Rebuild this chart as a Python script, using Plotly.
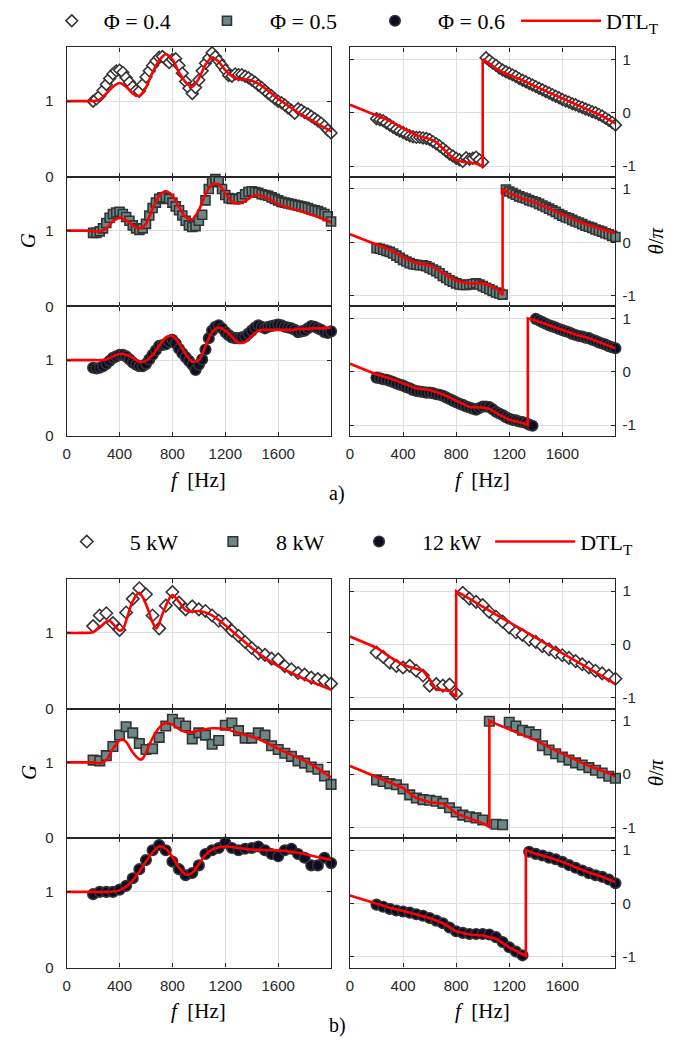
import plotly.graph_objects as go

# ---------------- data ----------------
f_exp_a = list(range(200, 2001, 25))
f_exp_b = list(range(200, 2001, 50))

# Block a) : equivalence ratio Phi
gain_phi04 = [1.00, 1.03, 1.07, 1.14, 1.22, 1.30, 1.36, 1.40, 1.41, 1.38, 1.31, 1.25,
              1.19, 1.14, 1.13, 1.22, 1.32, 1.40, 1.47, 1.53, 1.58, 1.59, 1.55, 1.51,
              1.55, 1.56, 1.47, 1.37, 1.26, 1.17, 1.10, 1.18, 1.28, 1.40, 1.50, 1.57,
              1.64, 1.59, 1.53, 1.47, 1.41, 1.34, 1.33, 1.36, 1.35, 1.35, 1.33, 1.31,
              1.28, 1.25, 1.21, 1.18, 1.14, 1.10, 1.07, 1.03, 1.00, 0.98, 0.95, 0.91,
              0.88, 0.84, 0.90, 0.88, 0.85, 0.83, 0.80, 0.77, 0.74, 0.71, 0.67, 0.62,
              0.58]
phase_phi04 = [-0.11, -0.13, -0.15, -0.19, -0.23, -0.27, -0.31, -0.34, -0.37, -0.40, -0.43, -0.45,
               -0.46, -0.46, -0.47, -0.48, -0.50, -0.54, -0.58, -0.62, -0.67, -0.72, -0.77, -0.81,
               -0.85, -0.88, -0.91, -0.84, -0.87, -0.85, -0.83, -0.88, -0.92, 1.03, 0.98, 0.93,
               0.89, 0.84, 0.80, 0.77, 0.74, 0.71, 0.68, 0.64, 0.61, 0.58, 0.55, 0.52,
               0.49, 0.46, 0.43, 0.40, 0.37, 0.34, 0.31, 0.28, 0.25, 0.22, 0.20, 0.17,
               0.15, 0.12, 0.10, 0.07, 0.05, 0.02, 0.00, -0.03, -0.06, -0.10, -0.14, -0.18,
               -0.23]
gain_phi05 = [0.97, 0.97, 0.99, 1.03, 1.10, 1.17, 1.22, 1.24, 1.25, 1.22, 1.18, 1.13,
              1.07, 1.03, 1.01, 1.03, 1.09, 1.20, 1.30, 1.37, 1.42, 1.44, 1.44, 1.42,
              1.37, 1.32, 1.27, 1.20, 1.13, 1.07, 1.05, 1.06, 1.13, 1.21, 1.40, 1.55,
              1.64, 1.68, 1.65, 1.55, 1.47, 1.43, 1.42, 1.42, 1.42, 1.44, 1.48, 1.51,
              1.52, 1.51, 1.50, 1.48, 1.47, 1.46, 1.44, 1.42, 1.40, 1.38, 1.37, 1.36,
              1.35, 1.34, 1.33, 1.32, 1.31, 1.30, 1.28, 1.27, 1.26, 1.24, 1.22, 1.19,
              1.12]
phase_phi05 = [-0.11, -0.12, -0.14, -0.16, -0.18, -0.21, -0.25, -0.29, -0.33, -0.36, -0.39, -0.41,
               -0.42, -0.43, -0.43, -0.45, -0.48, -0.51, -0.54, -0.58, -0.63, -0.67, -0.71, -0.74,
               -0.77, -0.79, -0.80, -0.80, -0.79, -0.78, -0.77, -0.79, -0.82, -0.85, -0.88, -0.91,
               -0.94, -0.96, -0.98, 0.99, 0.95, 0.92, 0.89, 0.86, 0.84, 0.82, 0.79, 0.77,
               0.75, 0.72, 0.69, 0.66, 0.63, 0.60, 0.57, 0.53, 0.50, 0.47, 0.45, 0.42,
               0.39, 0.37, 0.34, 0.31, 0.29, 0.27, 0.24, 0.22, 0.20, 0.17, 0.15, 0.12,
               0.10]
gain_phi06 = [0.90, 0.89, 0.90, 0.92, 0.95, 0.99, 1.03, 1.05, 1.07, 1.07, 1.05, 1.01,
              0.97, 0.94, 0.92, 0.92, 0.95, 1.01, 1.07, 1.13, 1.19, 1.20, 1.21, 1.24,
              1.27, 1.22, 1.15, 1.09, 1.04, 0.99, 0.94, 0.87, 0.94, 1.01, 1.14, 1.29,
              1.39, 1.44, 1.46, 1.42, 1.37, 1.33, 1.30, 1.29, 1.29, 1.30, 1.31, 1.35,
              1.39, 1.43, 1.46, 1.44, 1.42, 1.44, 1.45, 1.46, 1.47, 1.46, 1.44, 1.43,
              1.42, 1.40, 1.37, 1.38, 1.39, 1.42, 1.45, 1.44, 1.42, 1.40, 1.37, 1.36,
              1.38]
phase_phi06 = [-0.11, -0.12, -0.14, -0.15, -0.17, -0.19, -0.22, -0.24, -0.26, -0.29, -0.31, -0.34,
               -0.36, -0.37, -0.38, -0.39, -0.39, -0.40, -0.42, -0.43, -0.45, -0.48, -0.51, -0.54,
               -0.57, -0.60, -0.62, -0.65, -0.67, -0.69, -0.71, -0.68, -0.65, -0.65, -0.66, -0.70,
               -0.75, -0.78, -0.81, -0.85, -0.88, -0.90, -0.91, -0.93, -0.94, -0.96, -0.99, -1.01,
               0.99, 0.96, 0.93, 0.90, 0.87, 0.85, 0.83, 0.80, 0.78, 0.76, 0.74, 0.71,
               0.69, 0.67, 0.66, 0.64, 0.63, 0.60, 0.58, 0.55, 0.53, 0.51, 0.48, 0.46,
               0.44]

# Block b) : thermal power
gain_5kw = [1.09, 1.23, 1.26, 1.13, 1.04, 1.27, 1.45, 1.59, 1.51, 1.23, 1.06, 1.36,
            1.54, 1.40, 1.31, 1.35, 1.31, 1.29, 1.23, 1.16, 1.12, 1.03, 0.96, 0.88,
            0.80, 0.73, 0.71, 0.66, 0.65, 0.56, 0.52, 0.47, 0.45, 0.41, 0.39, 0.37,
            0.33]
phase_5kw = [-0.15, -0.23, -0.34, -0.40, -0.43, -0.40, -0.49, -0.58, -0.77, -0.74, -0.77, -0.75,
             -0.92, 0.97, 0.86, 0.80, 0.74, 0.61, 0.52, 0.43, 0.32, 0.23, 0.18, 0.09,
             0.05, -0.03, -0.09, -0.15, -0.20, -0.25, -0.31, -0.37, -0.43, -0.49, -0.54, -0.58,
             -0.64]
gain_8kw = [1.03, 1.02, 1.09, 1.21, 1.36, 1.47, 1.39, 1.25, 1.17, 1.18, 1.33, 1.48,
            1.57, 1.52, 1.48, 1.31, 1.39, 1.36, 1.24, 1.29, 1.49, 1.52, 1.42, 1.32,
            1.32, 1.39, 1.36, 1.22, 1.17, 1.12, 1.08, 1.02, 0.99, 0.94, 0.91, 0.82,
            0.71]
phase_8kw = [-0.11, -0.14, -0.18, -0.20, -0.28, -0.39, -0.45, -0.48, -0.49, -0.51, -0.55, -0.63,
             -0.71, -0.77, -0.80, -0.82, -0.86, 0.99, -0.94, -0.95, 0.97, 0.90, 0.82, 0.79,
             0.74, 0.53, 0.45, 0.38, 0.32, 0.26, 0.21, 0.17, 0.12, 0.07, 0.02, -0.04,
             -0.08]
gain_12kw = [0.97, 1.00, 1.00, 1.00, 1.03, 1.08, 1.18, 1.30, 1.42, 1.55, 1.62, 1.55,
             1.40, 1.30, 1.22, 1.25, 1.35, 1.50, 1.55, 1.58, 1.65, 1.58, 1.55, 1.57,
             1.58, 1.60, 1.55, 1.50, 1.47, 1.55, 1.57, 1.50, 1.45, 1.35, 1.35, 1.45,
             1.38]
phase_12kw = [-0.02, -0.06, -0.10, -0.13, -0.15, -0.17, -0.20, -0.23, -0.27, -0.32, -0.37, -0.45,
              -0.52, -0.55, -0.57, -0.57, -0.57, -0.58, -0.63, -0.72, -0.82, -0.90, -0.97, 0.97,
              0.93, 0.90, 0.86, 0.83, 0.78, 0.72, 0.67, 0.62, 0.57, 0.53, 0.50, 0.45,
              0.38]

# DTL_T model curves
f_dtl_a_gain = list(range(0, 2001, 50))
dtl_gain_phi04 = [1.00, 1.00, 1.00, 1.00, 1.00, 1.02, 1.10, 1.19,
                  1.24, 1.19, 1.10, 1.07, 1.18, 1.38, 1.54, 1.62,
                  1.55, 1.38, 1.25, 1.19, 1.30, 1.48, 1.58, 1.52,
                  1.41, 1.33, 1.29, 1.29, 1.27, 1.23, 1.17, 1.10,
                  1.03, 0.97, 0.91, 0.85, 0.80, 0.75, 0.70, 0.65,
                  0.60]
dtl_gain_phi05 = [1.00, 1.00, 1.00, 1.00, 0.99, 0.99, 1.03, 1.12,
                  1.17, 1.14, 1.07, 1.03, 1.09, 1.29, 1.46, 1.52,
                  1.46, 1.31, 1.18, 1.15, 1.27, 1.48, 1.61, 1.61,
                  1.49, 1.38, 1.36, 1.39, 1.45, 1.47, 1.44, 1.40,
                  1.35, 1.32, 1.29, 1.27, 1.24, 1.21, 1.18, 1.15,
                  1.11]
dtl_gain_phi06 = [1.00, 1.00, 1.00, 1.00, 1.00, 1.00, 1.01, 1.05,
                  1.08, 1.07, 1.03, 0.98, 0.99, 1.07, 1.19, 1.30,
                  1.32, 1.22, 1.08, 0.98, 1.00, 1.18, 1.37, 1.43,
                  1.39, 1.31, 1.23, 1.24, 1.32, 1.39, 1.40, 1.40,
                  1.40, 1.40, 1.40, 1.41, 1.41, 1.42, 1.42, 1.42,
                  1.43]
f_dtl_phase_phi04 = [0, 100, 200, 300, 400, 500, 550, 600, 650, 700, 750, 800, 850, 900, 950,
                     1000, 1000, 1050, 1100, 1150, 1200, 1300, 1400, 1500, 1600, 1700, 1800, 1900, 2000]
dtl_phase_phi04 = [0.15, 0.05, -0.06, -0.15, -0.29, -0.42, -0.46, -0.49, -0.55, -0.67, -0.79, -0.88,
                   -0.92, -0.93, -0.95, -1.00, 1.00, 0.92, 0.83, 0.76, 0.71, 0.61, 0.49, 0.38,
                   0.26, 0.15, 0.05, -0.06, -0.20]
f_dtl_phase_phi05 = [0, 100, 200, 300, 400, 500, 600, 700, 800, 900, 1000, 1050, 1100, 1150,
                     1150, 1175, 1200, 1300, 1400, 1500, 1600, 1700, 1800, 1900, 2000]
dtl_phase_phi05 = [0.15, 0.05, -0.05, -0.14, -0.28, -0.39, -0.43, -0.57, -0.72, -0.77, -0.77, -0.80,
                   -0.86, -0.99, 1.00, 0.96, 0.92, 0.82, 0.74, 0.63, 0.52, 0.41, 0.32, 0.24, 0.17]
f_dtl_phase_phi06 = [0, 100, 200, 300, 400, 500, 600, 700, 800, 900, 1000, 1050, 1100, 1200, 1300,
                     1340, 1340, 1400, 1500, 1600, 1700, 1800, 1900, 2000]
dtl_phase_phi06 = [0.15, 0.05, -0.05, -0.12, -0.22, -0.31, -0.34, -0.42, -0.54, -0.66, -0.67, -0.69,
                   -0.77, -0.90, -0.96, -1.00, 1.00, 0.96, 0.87, 0.78, 0.70, 0.63, 0.53, 0.44]

f_dtl_gain_5kw = [0, 100, 200, 250, 300, 325, 350, 400, 425, 450, 500, 550, 600, 650, 680, 725, 775,
                  800, 850, 900, 950, 1000, 1050, 1100, 1200, 1300, 1400, 1500, 1600, 1700, 1800, 1900, 2000]
dtl_gain_5kw = [1.00, 1.00, 1.01, 1.07, 1.15, 1.16, 1.12, 1.03, 1.05, 1.16, 1.42, 1.53, 1.38, 1.14,
                1.06, 1.25, 1.45, 1.50, 1.41, 1.30, 1.28, 1.29, 1.27, 1.23, 1.10, 0.95, 0.80, 0.67,
                0.56, 0.47, 0.39, 0.32, 0.25]
f_dtl_gain_8kw = [0, 100, 200, 250, 300, 350, 400, 425, 450, 500, 550, 575, 600, 650, 700, 750, 800,
                  850, 900, 950, 1000, 1100, 1200, 1300, 1400, 1500, 1600, 1700, 1800, 1900, 2000]
dtl_gain_8kw = [1.00, 1.00, 1.00, 0.99, 1.03, 1.18, 1.29, 1.30, 1.27, 1.13, 1.04, 1.05, 1.13, 1.32,
                1.46, 1.52, 1.50, 1.44, 1.40, 1.40, 1.42, 1.45, 1.44, 1.39, 1.34, 1.27, 1.18, 1.10,
                1.02, 0.92, 0.80]
f_dtl_gain_12kw = [0, 100, 200, 300, 400, 450, 500, 550, 600, 650, 700, 750, 800, 850, 900, 950,
                   1000, 1050, 1100, 1200, 1300, 1400, 1500, 1600, 1700, 1800, 1900, 2000]
dtl_gain_12kw = [1.00, 1.00, 1.00, 1.00, 1.02, 1.07, 1.15, 1.27, 1.40, 1.52, 1.60, 1.57, 1.46, 1.32,
                 1.23, 1.25, 1.37, 1.49, 1.56, 1.60, 1.58, 1.56, 1.55, 1.55, 1.53, 1.50, 1.46, 1.42]
f_dtl_phase_5kw = [0, 100, 200, 300, 400, 450, 500, 550, 600, 650, 700, 750, 800, 800, 850, 900,
                   1000, 1100, 1200, 1300, 1400, 1500, 1600, 1700, 1800, 1900, 2000]
dtl_phase_5kw = [0.15, 0.05, -0.06, -0.23, -0.38, -0.42, -0.46, -0.49, -0.65, -0.84, -0.85, -0.87,
                 -0.98, 1.00, 0.93, 0.86, 0.71, 0.56, 0.42, 0.27, 0.13, -0.02, -0.16, -0.31,
                 -0.45, -0.59, -0.74]
f_dtl_phase_8kw = [0, 100, 200, 300, 400, 450, 500, 600, 700, 750, 800, 900, 1000, 1050, 1050,
                   1100, 1200, 1300, 1400, 1500, 1600, 1700, 1800, 1900, 2000]
dtl_phase_8kw = [0.15, 0.05, -0.05, -0.16, -0.26, -0.36, -0.45, -0.53, -0.55, -0.63, -0.74, -0.83,
                 -0.92, -0.99, 1.00, 0.94, 0.84, 0.73, 0.63, 0.50, 0.38, 0.26, 0.15, 0.06, -0.04]
f_dtl_phase_12kw = [0, 100, 200, 300, 400, 500, 600, 700, 800, 900, 1000, 1100, 1200, 1300, 1325,
                    1325, 1400, 1500, 1600, 1700, 1800, 1900, 2000]
dtl_phase_12kw = [0.15, 0.07, 0.00, -0.08, -0.14, -0.20, -0.27, -0.37, -0.52, -0.58, -0.60, -0.66,
                  -0.82, -0.95, -0.98, 1.00, 0.93, 0.86, 0.78, 0.68, 0.58, 0.50, 0.40]

legend_a_labels = ["\u03a6 = 0.4", "\u03a6 = 0.5", "\u03a6 = 0.6"]
legend_b_labels = ["5 kW", "8 kW", "12 kW"]
dtl_label = "DTL<sub>T</sub>"
x_ticks = [0, 400, 800, 1200, 1600]
gain_ticks = [0, 1]
phase_ticks = [-1, 0, 1]
phase_ticktext = ["-1", "0", "1"]

# ---------------- layout helpers ----------------
W, H = 688, 1047
col_px = [(63, 329), (348, 615)]
block_top_px = [40, 580]
row_h_px = 131.5
FRAME = "#262626"
GRID = "#dedede"
RED = "#ff0000"
SERIF = "Liberation Serif"
SANS = "Liberation Sans"

marker_styles = [
    dict(symbol="diamond", color="white", line=dict(color="#333333", width=1.6)),
    dict(symbol="square", color="#6b8888", line=dict(color="#333333", width=1.6)),
    dict(symbol="circle", color="#0c0c28", line=dict(color="#333333", width=1.6)),
]
marker_size_a = [9, 9, 10.5]
marker_size_b = [9.5, 9.5, 10.5]

blocks = [
    dict(f_exp=f_exp_a, labels=legend_a_labels,
         gains=[gain_phi04, gain_phi05, gain_phi06],
         phases=[phase_phi04, phase_phi05, phase_phi06],
         dtl_gain=[(f_dtl_a_gain, dtl_gain_phi04), (f_dtl_a_gain, dtl_gain_phi05), (f_dtl_a_gain, dtl_gain_phi06)],
         dtl_phase=[(f_dtl_phase_phi04, dtl_phase_phi04), (f_dtl_phase_phi05, dtl_phase_phi05),
                    (f_dtl_phase_phi06, dtl_phase_phi06)],
         sizes=marker_size_a),
    dict(f_exp=f_exp_b, labels=legend_b_labels,
         gains=[gain_5kw, gain_8kw, gain_12kw],
         phases=[phase_5kw, phase_8kw, phase_12kw],
         dtl_gain=[(f_dtl_gain_5kw, dtl_gain_5kw), (f_dtl_gain_8kw, dtl_gain_8kw), (f_dtl_gain_12kw, dtl_gain_12kw)],
         dtl_phase=[(f_dtl_phase_5kw, dtl_phase_5kw), (f_dtl_phase_8kw, dtl_phase_8kw),
                    (f_dtl_phase_12kw, dtl_phase_12kw)],
         sizes=marker_size_b),
]

fig = go.Figure()
layout = {}


def legend_key(b, i):
    # one legend per entry: legend2 .. legend9
    return f"legend{b * 4 + i + 2}"


for b, blk in enumerate(blocks):
    for r in range(3):
        for c in range(2):
            k = b * 6 + r * 2 + c + 1
            xa = "x" if k == 1 else f"x{k}"
            ya = "y" if k == 1 else f"y{k}"
            yvals = blk["gains"][r] if c == 0 else blk["phases"][r]
            fig.add_trace(go.Scatter(
                x=blk["f_exp"], y=yvals, mode="markers",
                marker=dict(size=blk["sizes"][r], **marker_styles[r]),
                name=blk["labels"][r], showlegend=(c == 0), legend=legend_key(b, r),
                xaxis=xa, yaxis=ya, cliponaxis=False, hoverinfo="skip"))
            fx, fy = (blk["dtl_gain"][r] if c == 0 else blk["dtl_phase"][r])
            fig.add_trace(go.Scatter(
                x=fx, y=fy, mode="lines",
                line=dict(color=RED, width=2.6, shape=("spline" if c == 0 else "linear"), smoothing=0.8),
                name=dtl_label, showlegend=(c == 0 and r == 0),
                legend=legend_key(b, 3),
                xaxis=xa, yaxis=ya, cliponaxis=False, hoverinfo="skip"))

            x0, x1 = col_px[c]
            top = block_top_px[b] + r * row_h_px
            bot = top + row_h_px
            xkey = "xaxis" if k == 1 else f"xaxis{k}"
            ykey = "yaxis" if k == 1 else f"yaxis{k}"
            layout[xkey] = dict(
                domain=[x0 / W, x1 / W], anchor=ya, range=[0, 2000],
                tickvals=x_ticks, showticklabels=(r == 2),
                ticks="inside", ticklen=4, tickcolor=FRAME, tickwidth=1,
                showline=True, linecolor=FRAME, linewidth=1.3, mirror="ticks",
                showgrid=True, gridcolor=GRID, gridwidth=1, zeroline=False,
                tickfont=dict(family=SANS, size=15, color=FRAME),
                ticklabelstandoff=4, fixedrange=True)
            if c == 0:
                yr = [0, 1.71]
                yt = dict(tickvals=gain_ticks, ticktext=["0", "1"], side="left")
            else:
                yr = [-1.2, 1.225]
                yt = dict(tickvals=phase_ticks, ticktext=phase_ticktext, side="right")
            layout[ykey] = dict(
                domain=[1 - bot / H, 1 - top / H], anchor=xa, range=yr,
                ticks="inside", ticklen=4, tickcolor=FRAME, tickwidth=1,
                showline=True, linecolor=FRAME, linewidth=1.3, mirror="ticks",
                showgrid=True, gridcolor=GRID, gridwidth=1, zeroline=False,
                tickfont=dict(family=SANS, size=15, color=FRAME),
                ticklabelstandoff=(9 if c == 0 else 3), fixedrange=True, **yt)

# legends (one per entry, positioned like the original header rows)
legend_item_start = [[36, 181, 350, 515], [40, 187, 334, 489]]
legend_item_width = [[54, 76, 76, 80], [76, 76, 76, 80]]
legend_y_px = [13, 542]
for b in range(2):
    for i in range(4):
        layout[legend_key(b, i)] = dict(
            x=legend_item_start[b][i] / W, y=1 - legend_y_px[b] / H,
            xanchor="left", yanchor="middle", orientation="h",
            itemwidth=legend_item_width[b][i], bgcolor="rgba(0,0,0,0)", borderwidth=0,
            font=dict(family=SERIF, size=22, color="black"),
            itemclick=False, itemdoubleclick=False)

annotations = []
for b in range(2):
    off = block_top_px[b] - 40
    common = dict(xref="paper", yref="paper", showarrow=False, xanchor="center", yanchor="middle")
    annotations.append(dict(text="<i>G</i>", x=25 / W, y=1 - (236 + off) / H, textangle=-90,
                            font=dict(family=SERIF, size=21, color="black"), **common))
    annotations.append(dict(text="<i>\u03b8</i>/<i>\u03c0</i>", x=656 / W, y=1 - (237 + off) / H,
                            textangle=-90, font=dict(family=SERIF, size=21, color="black"), **common))
    for cx in (196, 481):
        annotations.append(dict(text="<i>f</i>  [Hz]", x=cx / W, y=1 - (479 + off) / H,
                                font=dict(family=SERIF, size=21, color="black"), **common))
    annotations.append(dict(text=("a)" if b == 0 else "b)"), x=335 / W, y=1 - (493 + off) / H,
                            font=dict(family=SERIF, size=20, color="black"), **common))

fig.update_layout(
    width=W, height=H, margin=dict(l=0, r=0, t=0, b=0),
    paper_bgcolor="white", plot_bgcolor="white",
    showlegend=True, annotations=annotations, **layout)

fig.write_html("out.html")
